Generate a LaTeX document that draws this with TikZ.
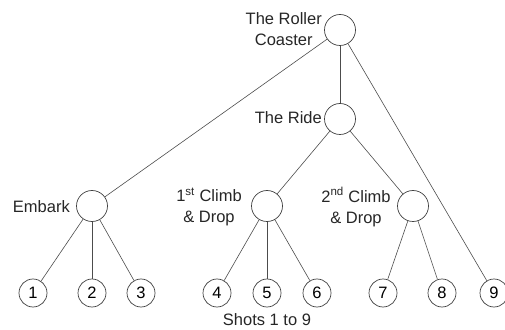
\documentclass[tikz,border=0pt]{standalone}
\usepackage{fontspec}
\setmainfont{Liberation Sans}
\begin{document}
\begin{tikzpicture}[x=1pt,y=1pt,
  inner/.style={circle,draw=black!75,line width=0.7pt,minimum size=31pt,inner sep=0pt},
  leaf/.style={circle,draw=black!75,line width=0.7pt,minimum size=28pt,inner sep=0pt,font=\fontsize{16.5}{18}\selectfont},
  lbl/.style={font=\fontsize{16.5}{21}\selectfont,align=center,inner sep=0pt,text=black!85},
  edge/.style={draw=black!70,line width=0.6pt}]
\useasboundingbox (0,0) rectangle (505,329);
\node[inner] (root) at (340,299) {};
\node[inner] (ride) at (340,210) {};
\node[inner] (emb) at (92,123) {};
\node[inner] (c1) at (267,123) {};
\node[inner] (c2) at (413,123) {};
\node[leaf] (l1) at (33,36) {1};
\node[leaf] (l2) at (92,36) {2};
\node[leaf] (l3) at (141,36) {3};
\node[leaf] (l4) at (217,36) {4};
\node[leaf] (l5) at (267,36) {5};
\node[leaf] (l6) at (317,36) {6};
\node[leaf] (l7) at (383,36) {7};
\node[leaf] (l8) at (442,36) {8};
\node[leaf] (l9) at (494,36) {9};
\node[lbl,anchor=east] (troot) at (322,300) {The Roller\\Coaster};
\node[lbl,anchor=east] (tride) at (322,211) {The Ride};
\node[lbl,anchor=east] (temb) at (70,122) {Embark};
\node[lbl] (tc1) at (209,122) {1\textsuperscript{st} Climb\\\& Drop};
\node[lbl] (tc2) at (356,122) {2\textsuperscript{nd} Climb\\\& Drop};
\node[lbl] (tshots) at (267,9) {Shots 1 to 9};
\draw[edge] (root) -- (ride);
\draw[edge] (root) -- (emb);
\draw[edge] (root) -- (l9);
\draw[edge] (ride) -- (c1);
\draw[edge] (ride) -- (c2);
\draw[edge] (emb) -- (l1);
\draw[edge] (emb) -- (l2);
\draw[edge] (emb) -- (l3);
\draw[edge] (c1) -- (l4);
\draw[edge] (c1) -- (l5);
\draw[edge] (c1) -- (l6);
\draw[edge] (c2) -- (l7);
\draw[edge] (c2) -- (l8);
\end{tikzpicture}
\end{document}
